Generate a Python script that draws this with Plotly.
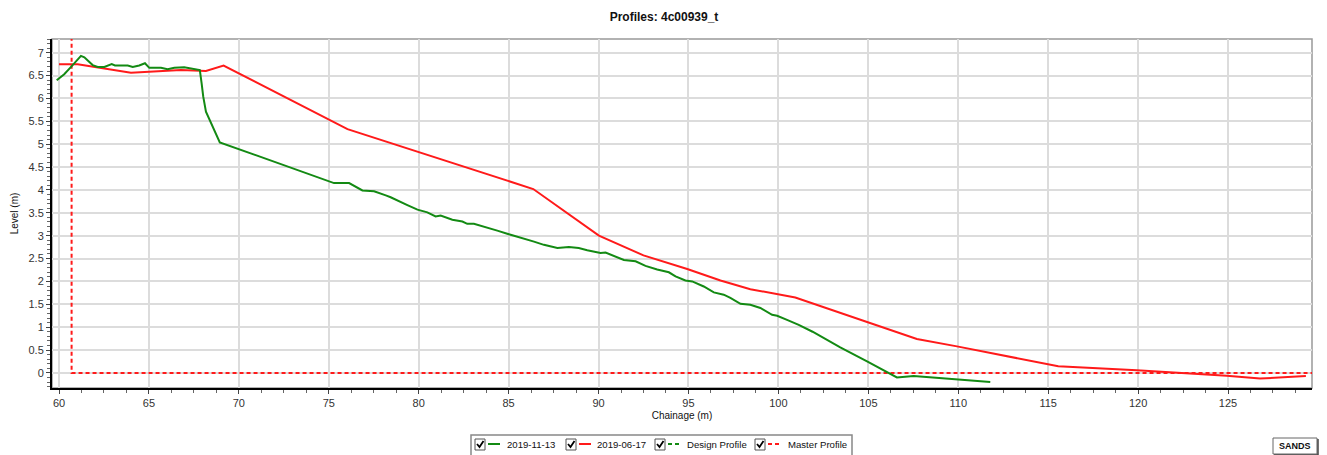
import plotly.graph_objects as go

# ---- data ----
nov_x = [59.87, 60.29, 60.67, 61.22, 61.41, 61.87, 62.15, 62.52, 62.93, 63.11, 63.82, 64.1, 64.46, 64.78,
         65.02, 65.67, 66.04, 66.41, 66.96, 67.33, 67.61, 67.83, 67.93, 68.02, 68.17, 68.94, 75.29, 76.13,
         76.87, 77.52, 78.17, 78.44, 79.37, 79.93, 80.48, 80.94, 81.22, 81.87, 82.43, 82.7, 83.07, 83.9,
         84.37, 85.11, 85.76, 86.41, 86.96, 87.71, 88.35, 88.9, 89.37, 90.11, 90.39, 90.85, 91.41, 92.06,
         92.61, 93.26, 93.91, 94.28, 94.83, 95.21, 95.85, 96.41, 96.96, 97.33, 97.89, 98.44, 99.0, 99.65,
         99.93, 100.48, 101.13, 101.9, 103.44, 104.93, 106.59, 107.52, 109.0, 110.11, 111.78]
nov_y = [6.40, 6.53, 6.69, 6.93, 6.90, 6.73, 6.69, 6.69, 6.75, 6.72, 6.72, 6.69, 6.72, 6.77,
         6.67, 6.67, 6.64, 6.67, 6.68, 6.66, 6.64, 6.62, 6.33, 6.04, 5.71, 5.04, 4.15, 4.15,
         3.99, 3.97, 3.88, 3.84, 3.67, 3.57, 3.51, 3.42, 3.44, 3.35, 3.31, 3.26, 3.26, 3.17,
         3.11, 3.02, 2.95, 2.87, 2.80, 2.73, 2.75, 2.73, 2.68, 2.62, 2.63, 2.55, 2.47, 2.44,
         2.34, 2.26, 2.20, 2.11, 2.02, 2.00, 1.89, 1.76, 1.71, 1.64, 1.51, 1.49, 1.42, 1.27,
         1.25, 1.16, 1.05, 0.90, 0.56, 0.25, -0.10, -0.07, -0.12, -0.16, -0.20]

jun_x = [60.0, 61.04, 64.0, 66.78, 68.17, 69.15, 76.04, 86.37, 90.02, 92.5, 94.93, 96.78, 98.44, 99.93,
         100.94, 107.7, 109.93, 115.56, 119.93, 124.93, 126.78, 129.33]
jun_y = [6.75, 6.75, 6.56, 6.62, 6.60, 6.72, 5.33, 4.02, 3.00, 2.57, 2.27, 2.02, 1.83, 1.73,
         1.65, 0.74, 0.58, 0.145, 0.06, -0.06, -0.125, -0.07]

master_x = [60.7, 60.7, 129.67]
master_y = [7.5, 0.0, 0.0]

design_x = [None]
design_y = [None]

x_ticks = [60, 65, 70, 75, 80, 85, 90, 95, 100, 105, 110, 115, 120, 125]
y_ticks = [0, 0.5, 1, 1.5, 2, 2.5, 3, 3.5, 4, 4.5, 5, 5.5, 6, 6.5, 7]

legend_names = ["2019-11-13", "2019-06-17", "Design Profile", "Master Profile"]

GREEN = "#138a13"
RED = "#ff1a1a"

# plot area in pixels
L, R, T, B = 52, 1312, 39, 388
W, H = 1327, 455


def px(xp):
    return (xp - L) / (R - L)


def py(yp):
    return (B - yp) / (B - T)


fig = go.Figure()
fig.add_trace(go.Scatter(x=master_x, y=master_y, name=legend_names[3], mode="lines",
                         line=dict(color=RED, width=2, dash="4px,3px"), showlegend=False))
fig.add_trace(go.Scatter(x=design_x, y=design_y, name=legend_names[2], mode="lines",
                         line=dict(color=GREEN, width=2, dash="4px,3px"), showlegend=False))
fig.add_trace(go.Scatter(x=jun_x, y=jun_y, name=legend_names[1], mode="lines",
                         line=dict(color=RED, width=2), showlegend=False))
fig.add_trace(go.Scatter(x=nov_x, y=nov_y, name=legend_names[0], mode="lines",
                         line=dict(color=GREEN, width=2), showlegend=False))

fig.update_layout(
    width=W, height=H,
    margin=dict(l=L, r=W - R, t=T, b=H - B, autoexpand=False),
    paper_bgcolor="white", plot_bgcolor="white",
    font=dict(family="Liberation Sans, Arial, sans-serif", size=11, color="#222"),
    title=dict(text="<b>Profiles: 4c00939_t</b>", x=(664) / W, xanchor="center",
               y=1 - 17 / H, yref="container", yanchor="middle",
               font=dict(size=12, color="#111")),
    showlegend=False,
)

fig.update_xaxes(range=[59.61, 129.67], tickvals=x_ticks, showgrid=True, gridcolor="#dcdcdc", gridwidth=2,
                 zeroline=False, showline=True, linecolor="black", linewidth=2, automargin=False,
                 ticks="outside", ticklen=4, tickcolor="#444",
                 minor=dict(dtick=1.25, tick0=60, ticks="outside", ticklen=3, tickcolor="#666", showgrid=False),
                 title=dict(text="Chainage (m)", font=dict(size=10, color="#111"), standoff=4),
                 tickfont=dict(size=11, color="#333"))
fig.update_yaxes(range=[-0.33, 7.3], tickvals=y_ticks, showgrid=True, gridcolor="#dcdcdc", gridwidth=2,
                 zeroline=False, showline=True, linecolor="black", linewidth=2, automargin=False,
                 ticks="outside", ticklen=4, tickcolor="#444",
                 minor=dict(dtick=0.1, tick0=0, ticks="outside", ticklen=3, tickcolor="#666", showgrid=False),
                 title=dict(text="Level (m)", font=dict(size=10, color="#111"), standoff=8),
                 tickfont=dict(size=11, color="#333"))

shapes = []
annotations = []

# gray border on top/right
shapes.append(dict(type="rect", xref="paper", yref="paper", x0=0, x1=1, y0=0, y1=1,
                   line=dict(color="#999", width=1.5), layer="below"))

# ---- custom legend (checkbox + line sample + label) ----
shapes.append(dict(type="rect", xref="paper", yref="paper", x0=px(471), x1=px(852), y0=py(435), y1=py(460),
                   line=dict(color="#888", width=1.5), fillcolor="white", layer="above"))
legend_items = [
    (475, GREEN, "solid", 507),
    (566, RED, "solid", 597),
    (655, GREEN, "dash", 687),
    (755, RED, "dash", 788),
]
cy = 444
for (cbx, col, dsh, tx), name in zip(legend_items, legend_names):
    shapes.append(dict(type="rect", xref="paper", yref="paper", x0=px(cbx), x1=px(cbx + 10),
                       y0=py(cy - 5), y1=py(cy + 6), line=dict(color="#555", width=1), fillcolor="white"))
    shapes.append(dict(type="path", xref="paper", yref="paper",
                       path=f"M {px(cbx + 2)},{py(cy)} L {px(cbx + 4.5)},{py(cy + 3)} L {px(cbx + 8.5)},{py(cy - 3)}",
                       line=dict(color="black", width=1.8)))
    shapes.append(dict(type="line", xref="paper", yref="paper", x0=px(cbx + 13), x1=px(cbx + 25),
                       y0=py(cy), y1=py(cy), line=dict(color=col, width=2,
                                                       dash="solid" if dsh == "solid" else "4px,3px")))
    annotations.append(dict(text=name, xref="paper", yref="paper", x=px(tx - 2), y=py(cy), xanchor="left",
                            yanchor="middle", showarrow=False, font=dict(size=9.6, color="#111")))

# ---- SANDS badge ----
shapes.append(dict(type="rect", xref="paper", yref="paper", x0=px(1273), x1=px(1317), y0=py(438), y1=py(454),
                   line=dict(color="#666", width=1), fillcolor="white"))
shapes.append(dict(type="path", xref="paper", yref="paper",
                   path=f"M {px(1318)},{py(439)} L {px(1318)},{py(455)} L {px(1274)},{py(455)}",
                   line=dict(color="#444", width=1.5)))
annotations.append(dict(text="<b>SANDS</b>", xref="paper", yref="paper", x=px(1295), y=py(446),
                        xanchor="center", yanchor="middle", showarrow=False,
                        font=dict(size=9, color="#111")))

fig.update_layout(shapes=shapes, annotations=annotations)

fig.write_html("out.html", config={"displayModeBar": False},
               post_script="document.body.style.margin='0px';document.body.style.overflow='hidden';")
